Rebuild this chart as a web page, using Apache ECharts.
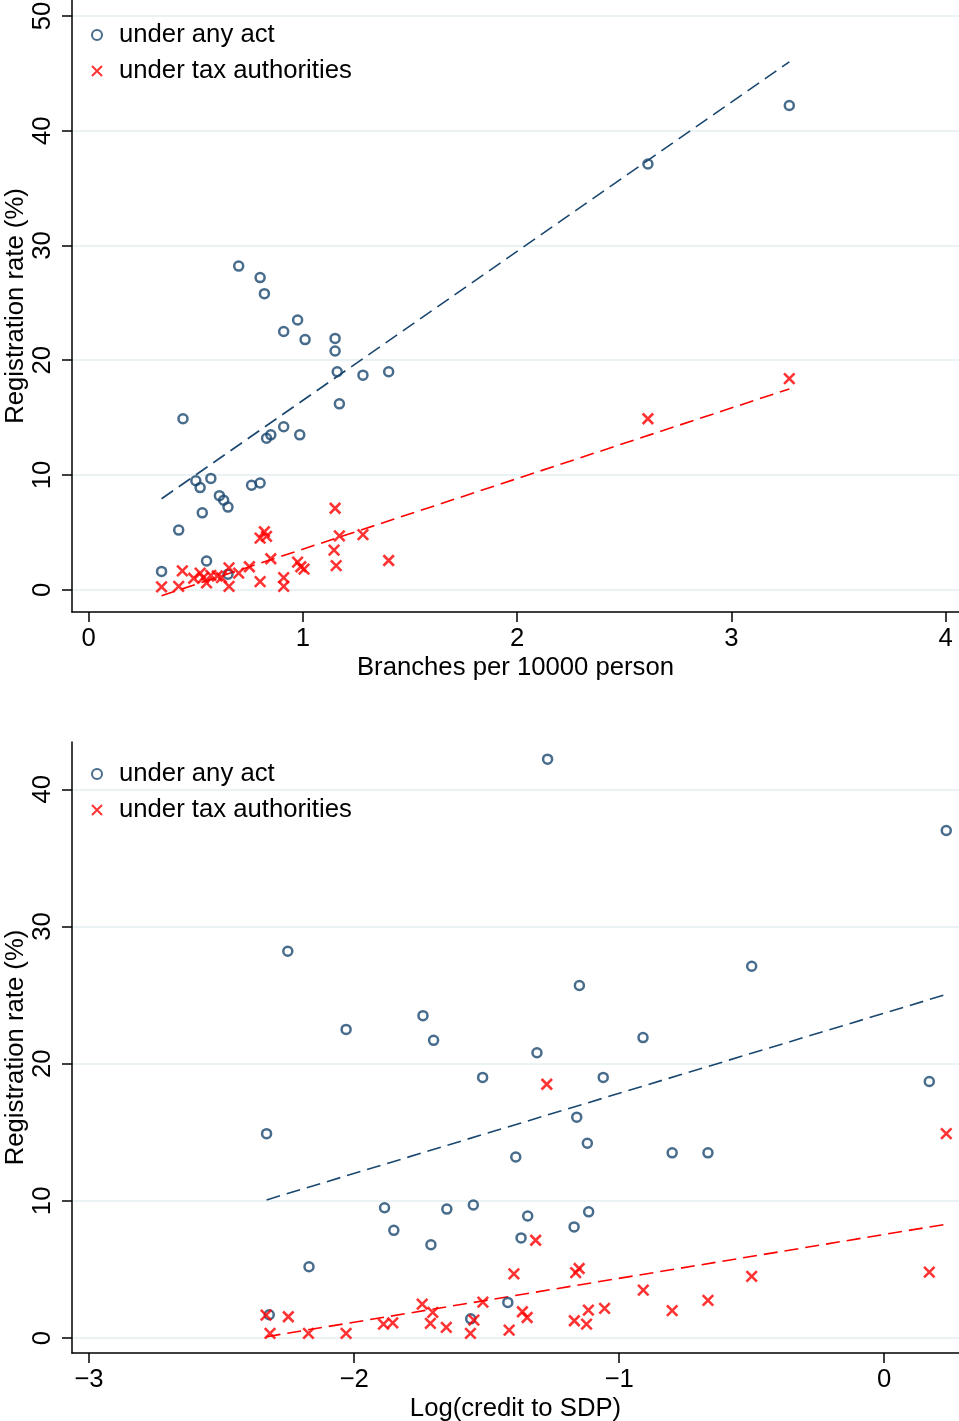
<!DOCTYPE html>
<html>
<head>
<meta charset="utf-8">
<script src="https://cdn.jsdelivr.net/npm/echarts@6/dist/echarts.min.js"></script>
<style>
html,body{margin:0;padding:0;background:#fff;}
#c{width:959px;height:1421px;}
</style>
</head>
<body>
<div id="c"></div>
<script>
// ---- Data: top panel (Branches per 10000 person) ----
const branchesAny = [
  [0.34,1.6],[0.44,14.9],[0.42,5.2],[0.50,9.5],[0.52,8.9],[0.57,9.7],[0.53,6.7],[0.55,2.5],
  [0.61,8.2],[0.63,7.8],[0.65,7.2],[0.65,1.35],[0.70,28.2],[0.76,9.1],[0.80,9.3],[0.80,27.2],
  [0.82,25.8],[0.83,13.2],[0.85,13.5],[0.91,22.5],[0.91,14.2],[0.975,23.5],[0.985,13.5],[1.01,21.8],
  [1.15,21.9],[1.15,20.8],[1.16,19.0],[1.17,16.2],[1.28,18.7],[1.40,19.0],[2.61,37.1],[3.27,42.2]
];
const branchesTax = [
  [0.34,0.25],[0.437,1.65],[0.42,0.3],[0.49,1.0],[0.52,1.45],[0.535,1.05],[0.55,0.6],[0.57,1.25],
  [0.60,1.2],[0.62,1.05],[0.655,1.9],[0.655,0.3],[0.70,1.45],[0.75,2.0],[0.80,0.7],[0.80,4.5],
  [0.82,5.05],[0.83,4.65],[0.85,2.7],[0.91,1.05],[0.91,0.3],[0.975,2.4],[0.99,2.0],[1.005,1.8],
  [1.15,7.1],[1.145,3.45],[1.17,4.7],[1.155,2.1],[1.28,4.8],[1.40,2.55],[2.61,14.9],[3.27,18.4]
];
const branchesFitAny = [[0.34,7.93],[3.27,46.0]];
const branchesFitTax = [[0.34,-0.52],[3.27,17.5]];

// ---- Data: bottom panel (Log(credit to SDP)) ----
const creditAny = [
  [-2.33,14.9],[-2.32,1.7],[-2.25,28.2],[-2.17,5.2],[-2.03,22.5],[-1.885,9.5],[-1.85,7.85],[-1.74,23.5],
  [-1.71,6.8],[-1.70,21.7],[-1.65,9.4],[-1.55,9.7],[-1.515,19.0],[-1.42,2.6],[-1.39,13.2],[-1.37,7.3],
  [-1.345,8.9],[-1.31,20.8],[-1.27,42.2],[-1.17,8.1],[-1.16,16.1],[-1.15,25.7],[-1.12,14.2],[-1.115,9.2],
  [-1.06,19.0],[-0.91,21.9],[-0.80,13.5],[-0.665,13.5],[-0.50,27.1],[0.17,18.7],[0.234,37.0],[-1.56,1.4]
];
const creditTax = [
  [-2.332,1.67],[-2.317,0.34],[-2.248,1.55],[-2.172,0.34],[-2.03,0.34],[-1.889,1.02],[-1.854,1.11],[-1.743,2.47],
  [-1.703,1.87],[-1.712,1.07],[-1.652,0.78],[-1.561,0.34],[-1.548,1.31],[-1.514,2.62],[-1.415,0.58],[-1.397,4.68],
  [-1.365,1.92],[-1.347,1.5],[-1.315,7.13],[-1.169,1.26],[-1.164,4.77],[-1.151,5.07],[-1.123,1.02],[-1.116,2.04],
  [-1.055,2.16],[-0.909,3.49],[-0.80,2.0],[-0.665,2.75],[-0.50,4.5],[0.17,4.8],[0.234,14.9],[-1.273,18.5]
];
const creditFitAny = [[-2.33,10.07],[0.234,25.05]];
const creditFitTax = [[-2.33,0.1],[0.234,8.3]];

// ---- Tick labels ----
const topXTicks = [0,1,2,3,4];
const topYTicks = [0,10,20,30,40,50];
const botXTicks = [-3,-2,-1,0];
const botYTicks = [0,10,20,30,40];

const seriesNames = ['under any act','under tax authorities'];
const xTitles = ['Branches per 10000 person','Log(credit to SDP)'];
const yTitle = 'Registration rate (%)';

const NAVY = '#1a476f', RED = '#ff0000', GRIDC = '#eaf2f3';
const FONT = '"Liberation Sans", Arial, Helvetica, sans-serif';
const FS = 25.7;
const XSYM = 'path://M0,0L10,10M10,0L0,10';

function xAxisDef(gi, min, max, ticks, title){
  return {
    type:'value', gridIndex:gi, min:min, max:max, name:title,
    nameLocation:'middle', nameGap:43, nameMoveOverlap:false,
    nameTextStyle:{fontFamily:FONT,fontSize:FS,color:'#000'},
    axisLine:{onZero:false,lineStyle:{color:'#000',width:1.5}},
    axisTick:{length:10,lineStyle:{color:'#000',width:1.5},customValues:ticks},
    axisLabel:{fontFamily:FONT,fontSize:FS,color:'#000',margin:14,customValues:ticks,
      formatter:v=>String(v).replace('-','\u2212')},
    splitLine:{show:false}
  };
}
function yAxisDef(gi, min, max, ticks){
  return {
    type:'value', gridIndex:gi, min:min, max:max, name:yTitle,
    nameLocation:'middle', nameGap:43, nameRotate:90, nameMoveOverlap:false,
    nameTextStyle:{fontFamily:FONT,fontSize:FS,color:'#000'},
    axisLine:{onZero:false,lineStyle:{color:'#000',width:1.5}},
    axisTick:{length:10,lineStyle:{color:'#000',width:1.5},customValues:ticks},
    axisLabel:{fontFamily:FONT,fontSize:FS,color:'#000',margin:16,rotate:90,customValues:ticks},
    splitLine:{show:true,lineStyle:{color:GRIDC,width:2}}
  };
}
function scat(name, gi, data, isTax){
  return {
    type:'scatter', name:name, xAxisIndex:gi, yAxisIndex:gi, data:data,
    symbol: isTax ? XSYM : 'circle',
    symbolSize: isTax ? 10.5 : 9,
    itemStyle: isTax ? {color:'rgba(0,0,0,0)',borderColor:RED,borderWidth:2.6}
                     : {color:'rgba(255,255,255,0)',borderColor:NAVY,borderWidth:2.5},
    z:3, clip:false
  };
}
function fit(gi, data, color){
  return {
    type:'line', xAxisIndex:gi, yAxisIndex:gi, data:data, symbol:'none',
    lineStyle:{color:color,width:1.6,type:[14,7]}, z:2, clip:false, silent:true
  };
}
function legendDef(top){
  return {
    orient:'vertical', left:86, top:top, itemWidth:10, itemHeight:10, itemGap:10,
    data:seriesNames, selectedMode:false,
    textStyle:{fontFamily:FONT,fontSize:FS,color:'#000',lineHeight:26,padding:[0,0,0,12]}
  };
}

const chart = echarts.init(document.getElementById('c'), null, {renderer:'canvas'});
chart.setOption({
  animation:false,
  backgroundColor:'#fff',
  legend:[legendDef(17), legendDef(756)],
  grid:[
    {left:72, top:0, width:887, height:612, containLabel:false, outerBoundsMode:'none'},
    {left:72, top:742, width:887, height:611, containLabel:false, outerBoundsMode:'none'}
  ],
  xAxis:[
    xAxisDef(0,-0.078,4.062,topXTicks,xTitles[0]),
    xAxisDef(1,-3.064,0.282,botXTicks,xTitles[1])
  ],
  yAxis:[
    yAxisDef(0,-1.94,51.39,topYTicks),
    yAxisDef(1,-1.09,43.45,botYTicks)
  ],
  series:[
    fit(0,branchesFitAny,NAVY), fit(0,branchesFitTax,RED),
    scat(seriesNames[0],0,branchesAny,false), scat(seriesNames[1],0,branchesTax,true),
    fit(1,creditFitAny,NAVY), fit(1,creditFitTax,RED),
    scat(seriesNames[0],1,creditAny,false), scat(seriesNames[1],1,creditTax,true)
  ]
});
</script>
</body>
</html>
